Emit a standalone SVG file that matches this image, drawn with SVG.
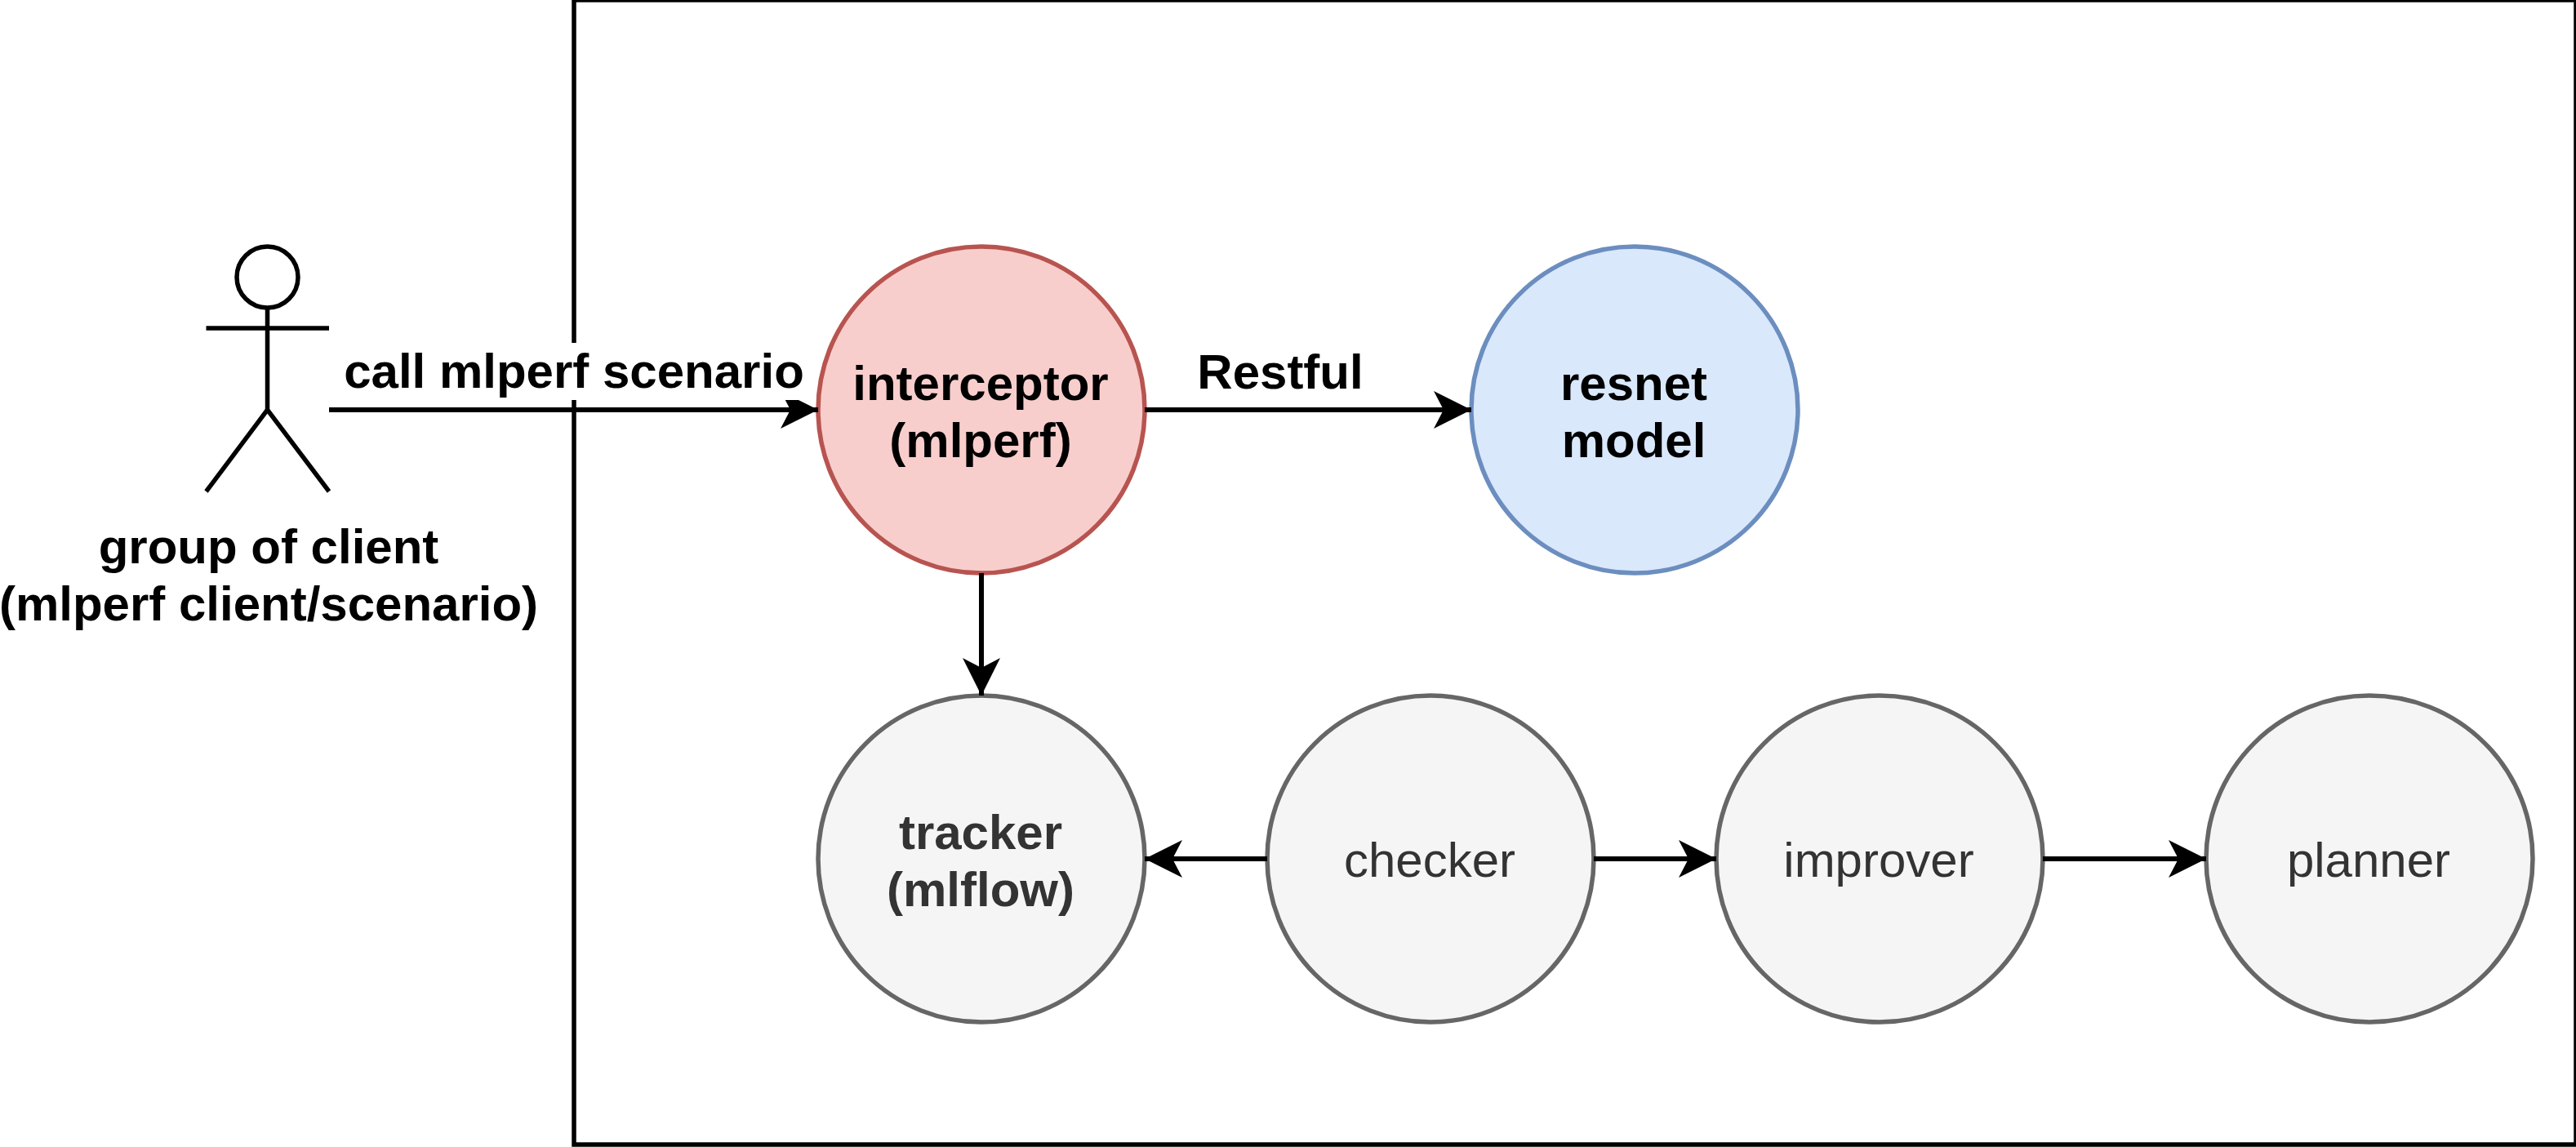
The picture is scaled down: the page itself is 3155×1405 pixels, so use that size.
<svg xmlns="http://www.w3.org/2000/svg" width="3155" height="1405" viewBox="0 0 3155 1405">
<style>
text{font-family:"Liberation Sans",Arial,sans-serif;font-size:60px;text-anchor:middle}
.b{font-weight:700}
.l{stroke:#000;stroke-width:5.500;fill:none}
.c{stroke:#000;stroke-width:6;fill:none;marker-end:url(#a)}
.g{fill:#f5f5f5;stroke:#666;stroke-width:5.500}
.t{fill:#333}
</style>
<defs><marker id="a" markerUnits="userSpaceOnUse" markerWidth="50" markerHeight="48" refX="46" refY="24" orient="auto"><path d="M0 1 L46 24 L0 47 L12 24 Z" fill="#000"/></marker></defs>
<rect width="3155" height="1405" fill="#fff"/>
<g id="frame"><rect x="703" y="0" width="2452" height="1402" class="l"/></g>
<g id="client">
<circle cx="327.500" cy="339.500" r="37.500" class="l"/>
<path d="M327.500 377V502M252.500 402H403M327.500 502L252.500 602M327.500 502L403 602" class="l"/>
<text class="b" x="329" y="690">group of client</text>
<text class="b" x="329" y="760">(mlperf client/scenario)</text>
</g>
<g id="interceptor"><circle cx="1202" cy="502" r="200" fill="#f8cecc" stroke="#b85450" stroke-width="5.500"/><text class="b" x="1201" y="490">interceptor</text><text class="b" x="1201" y="560">(mlperf)</text></g>
<g id="resnet"><circle cx="2002" cy="502" r="200" fill="#dae8fc" stroke="#6c8ebf" stroke-width="5.500"/><text class="b" x="2001" y="490">resnet</text><text class="b" x="2001" y="560">model</text></g>
<g id="tracker"><circle cx="1202" cy="1052" r="200" class="g"/><text class="b t" x="1201" y="1040">tracker</text><text class="b t" x="1201" y="1110">(mlflow)</text></g>
<g id="checker"><circle cx="1752" cy="1052" r="200" class="g"/><text class="t" x="1751" y="1074">checker</text></g>
<g id="improver"><circle cx="2302" cy="1052" r="200" class="g"/><text class="t" x="2301" y="1074">improver</text></g>
<g id="planner"><circle cx="2902" cy="1052" r="200" class="g"/><text class="t" x="2901" y="1074">planner</text></g>
<g id="connectors">
<path d="M403 502H1002" class="c"/>
<path d="M1402 502H1802" class="c"/>
<path d="M1202 702V852" class="c"/>
<path d="M1552 1052H1402" class="c"/>
<path d="M1952 1052H2102" class="c"/>
<path d="M2502 1052H2702" class="c"/>
<rect x="420" y="420" width="566" height="70" fill="#fff"/>
<text class="b" x="703" y="475">call mlperf scenario</text>
<text class="b" x="1568" y="476">Restful</text>
</g>
</svg>
